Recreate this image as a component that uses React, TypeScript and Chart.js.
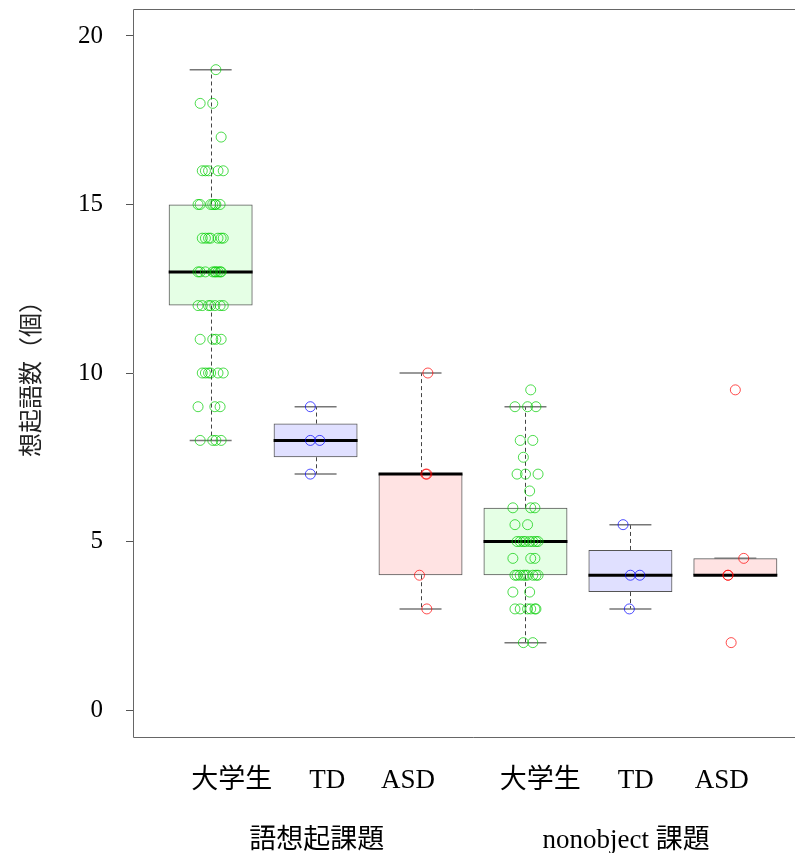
import React, { useEffect, useRef } from "react";
import { Chart, registerables } from "chart.js";

Chart.register(...registerables);

// ---- labels ----
const GROUP_LABELS = ["大学生", "TD", "ASD", "大学生", "TD", "ASD"];
const GROUP_LABEL_POS = [1.2, 2.11, 2.88, 4.14, 5.05, 5.87];
const TASK_LABELS = ["語想起課題", "nonobject 課題"];
const TASK_LABEL_POS = [2.01, 4.96];
const Y_TICKS = [0, 5, 10, 15, 20];
const Y_TITLE = "想起語数（個）";

// ---- box statistics ----
const BOX_POS = [1, 2, 3, 4, 5, 6];
const WHISKER_LO = [8, 7, 3, 2, 3, 4];
const Q1 = [12, 7.5, 4, 4, 3.5, 4];
const MEDIAN = [13, 8, 7, 5, 4, 4];
const Q3 = [15, 8.5, 7, 6, 4.75, 4.5];
const WHISKER_HI = [19, 9, 10, 9, 5.5, 4.5];

// ---- individual points ----
const STUDENT_WORD = [
  19, 18, 18, 17,
  16, 16, 16, 16, 16,
  15, 15, 15, 15, 15, 15, 15,
  14, 14, 14, 14, 14, 14, 14,
  13, 13, 13, 13, 13, 13, 13, 13, 13,
  12, 12, 12, 12, 12, 12, 12,
  11, 11, 11, 11,
  10, 10, 10, 10, 10, 10,
  9, 9, 9,
  8, 8, 8, 8,
];
const TD_WORD = [9, 8, 8, 7];
const ASD_WORD = [10, 7, 7, 4, 3];
const STUDENT_NONOBJ = [
  9.5,
  9, 9, 9,
  8, 8,
  7.5,
  7, 7, 7,
  6.5,
  6, 6, 6,
  5.5, 5.5,
  5, 5, 5, 5, 5, 5, 5, 5,
  4.5, 4.5, 4.5,
  4, 4, 4, 4, 4, 4, 4, 4, 4,
  3.5, 3.5,
  3, 3, 3, 3, 3, 3,
  2, 2,
];
const TD_NONOBJ = [5.5, 4, 4, 3];
const ASD_NONOBJ = [9.5, 4.5, 4, 4, 2];

// horizontal jitter offsets (cycled)
const JITTER_BIG = [0.05, -0.1, 0.02, 0.1, -0.05, 0.07, -0.02, 0.12, -0.08, 0.0, 0.04, -0.12, 0.09];
const JITTER_TD_WORD = [-0.05, -0.05, 0.04, -0.05];
const JITTER_ASD_WORD = [0.07, 0.05, 0.06, -0.01, 0.06];
const JITTER_TD_NONOBJ = [-0.07, 0.0, 0.09, -0.01];
const JITTER_ASD_NONOBJ = [0.0, 0.08, -0.07, -0.07, -0.04];

const GREEN_PT = "rgba(0,205,0,0.7)";
const BLUE_PT = "rgba(0,0,255,0.7)";
const RED_PT = "rgba(255,0,0,0.7)";
const BOX_FILL = [
  "rgba(0,255,0,0.1)",
  "rgba(0,0,255,0.12)",
  "rgba(255,0,0,0.11)",
  "rgba(0,255,0,0.1)",
  "rgba(0,0,255,0.12)",
  "rgba(255,0,0,0.11)",
];

const SERIF = "'Liberation Serif', 'Noto Sans CJK JP', serif";

const POINT_GROUPS = [
  { pos: 1, vals: STUDENT_WORD, jit: JITTER_BIG, color: GREEN_PT },
  { pos: 2, vals: TD_WORD, jit: JITTER_TD_WORD, color: BLUE_PT },
  { pos: 3, vals: ASD_WORD, jit: JITTER_ASD_WORD, color: RED_PT },
  { pos: 4, vals: STUDENT_NONOBJ, jit: JITTER_BIG, color: GREEN_PT },
  { pos: 5, vals: TD_NONOBJ, jit: JITTER_TD_NONOBJ, color: BLUE_PT },
  { pos: 6, vals: ASD_NONOBJ, jit: JITTER_ASD_NONOBJ, color: RED_PT },
];

const X_MIN = 0.26;
const X_MAX = 6.74;
const Y_MIN = -0.8;
const Y_MAX = 20.8;

const zeroPad = (s: any) => {
  s.paddingTop = 0;
  s.paddingBottom = 0;
  s.paddingLeft = 0;
  s.paddingRight = 0;
};

const boxPartsPlugin = {
  id: "boxParts",
  afterDatasetDraw(chart: any, args: any) {
    if (args.index !== 0) return;
    const { ctx } = chart;
    const xs = chart.scales.x;
    const ys = chart.scales.y;
    const line = (x1: number, y1: number, x2: number, y2: number) => {
      ctx.beginPath();
      ctx.moveTo(x1, y1);
      ctx.lineTo(x2, y2);
      ctx.stroke();
    };
    ctx.save();
    BOX_POS.forEach((p, i) => {
      const cx = Math.round(xs.getPixelForValue(p)) + 0.5;
      const capL = xs.getPixelForValue(p - 0.2);
      const capR = xs.getPixelForValue(p + 0.2);
      const boxL = xs.getPixelForValue(p - 0.4);
      const boxR = xs.getPixelForValue(p + 0.4);
      const yLo = ys.getPixelForValue(WHISKER_LO[i]);
      const yHi = ys.getPixelForValue(WHISKER_HI[i]);
      const yQ1 = ys.getPixelForValue(Q1[i]);
      const yQ3 = ys.getPixelForValue(Q3[i]);
      const yMed = ys.getPixelForValue(MEDIAN[i]);
      ctx.setLineDash([4, 3]);
      ctx.strokeStyle = "#444";
      ctx.lineWidth = 1;
      if (yHi < yQ3) line(cx, yQ3, cx, yHi);
      if (yLo > yQ1) line(cx, yQ1, cx, yLo);
      ctx.setLineDash([]);
      ctx.strokeStyle = "#777";
      ctx.lineWidth = 1.5;
      line(capL, yHi, capR, yHi);
      line(capL, yLo, capR, yLo);
      ctx.strokeStyle = "#000";
      ctx.lineWidth = 3;
      line(boxL, yMed, boxR, yMed);
    });
    ctx.restore();
  },
};

// plot frame: left, top and bottom edges (the right edge lies outside the window)
const framePlugin = {
  id: "frame",
  afterDraw(chart: any) {
    const { ctx } = chart;
    const xs = chart.scales.x;
    const ys = chart.scales.y;
    const l = Math.round(xs.getPixelForValue(X_MIN)) + 0.5;
    const r = xs.getPixelForValue(X_MAX);
    const t = Math.round(ys.getPixelForValue(Y_MAX)) + 0.5;
    const b = Math.round(ys.getPixelForValue(Y_MIN)) + 0.5;
    ctx.save();
    ctx.strokeStyle = "#666";
    ctx.lineWidth = 1;
    ctx.beginPath();
    ctx.moveTo(r, t);
    ctx.lineTo(l, t);
    ctx.lineTo(l, b);
    ctx.lineTo(r, b);
    ctx.stroke();
    ctx.restore();
  },
};

const labelAxis = (positions: number[], labels: string[], weight: number, height: number, padding: number) => ({
  type: "linear",
  position: "bottom",
  weight,
  min: X_MIN,
  max: X_MAX,
  offset: false,
  grid: { display: false, drawTicks: false },
  border: { display: false },
  afterBuildTicks: (s: any) => {
    s.ticks = positions.map((v) => ({ value: v }));
  },
  afterFit: (s: any) => {
    s.height = height;
    zeroPad(s);
  },
  ticks: {
    autoSkip: false,
    maxRotation: 0,
    minRotation: 0,
    padding,
    color: "#000",
    font: { family: SERIF, size: 27 },
    callback: (_v: any, i: number) => labels[i],
  },
});

export default function App() {
  const ref = useRef<HTMLCanvasElement | null>(null);

  useEffect(() => {
    if (!ref.current) return;
    const datasets: any[] = [
      {
        type: "bar",
        xAxisID: "x",
        yAxisID: "y",
        data: BOX_POS.map((p, i) => ({ x: p, y: [Q1[i], Q3[i]] })),
        backgroundColor: BOX_FILL,
        borderColor: "#555",
        borderWidth: 1,
        borderSkipped: false,
        barPercentage: 0.8,
        categoryPercentage: 1,
        order: 2,
      },
      ...POINT_GROUPS.map((g) => ({
        type: "scatter",
        xAxisID: "x",
        yAxisID: "y",
        data: g.vals.map((v, k) => ({ x: g.pos + g.jit[k % g.jit.length], y: v })),
        borderColor: g.color,
        backgroundColor: "transparent",
        pointRadius: 5,
        pointBorderWidth: 1,
        pointHoverRadius: 5,
        order: 1,
      })),
    ];

    const chart = new Chart(ref.current, {
      type: "bar",
      data: { datasets },
      options: {
        animation: false,
        responsive: false,
        devicePixelRatio: 1,
        events: [],
        layout: { autoPadding: false, padding: { top: 1, right: 5, left: 0, bottom: 0 } },
        plugins: {
          legend: { display: false },
          tooltip: { enabled: false },
          title: { display: false },
        },
        scales: {
          x: {
            type: "linear",
            position: "bottom",
            weight: 0,
            min: X_MIN,
            max: X_MAX,
            offset: false,
            grid: { display: false, drawTicks: false },
            border: { display: false },
            afterBuildTicks: (s: any) => {
              s.ticks = BOX_POS.map((v) => ({ value: v }));
            },
            afterFit: (s: any) => {
              s.height = 0;
              zeroPad(s);
            },
            ticks: { display: false },
          },
          xl: labelAxis(GROUP_LABEL_POS, GROUP_LABELS, 1, 70, 28),
          x2: labelAxis(TASK_LABEL_POS, TASK_LABELS, 2, 46, 18),
          y: {
            type: "linear",
            position: "left",
            min: Y_MIN,
            max: Y_MAX,
            afterBuildTicks: (s: any) => {
              s.ticks = Y_TICKS.map((v) => ({ value: v }));
            },
            afterFit: (s: any) => {
              s.width = 125;
              zeroPad(s);
            },
            grid: {
              drawOnChartArea: false,
              drawTicks: true,
              tickLength: 7,
              color: "#555",
              lineWidth: 1,
            },
            border: { display: false },
            ticks: {
              padding: 23,
              color: "#000",
              font: { family: "'Liberation Serif', serif", size: 25 },
              callback: (v: any) => String(v),
            },
            title: {
              display: true,
              text: Y_TITLE,
              color: "#222",
              font: { family: "'Noto Sans CJK JP', sans-serif", size: 24 },
              padding: { top: 7, bottom: 0 },
            },
          },
        },
      } as any,
      plugins: [boxPartsPlugin, framePlugin],
    });
    return () => chart.destroy();
  }, []);

  return (
    <div style={{ width: 795, height: 845, overflow: "hidden" }}>
      <canvas ref={ref} width={810} height={845} style={{ display: "block" }} />
    </div>
  );
}
